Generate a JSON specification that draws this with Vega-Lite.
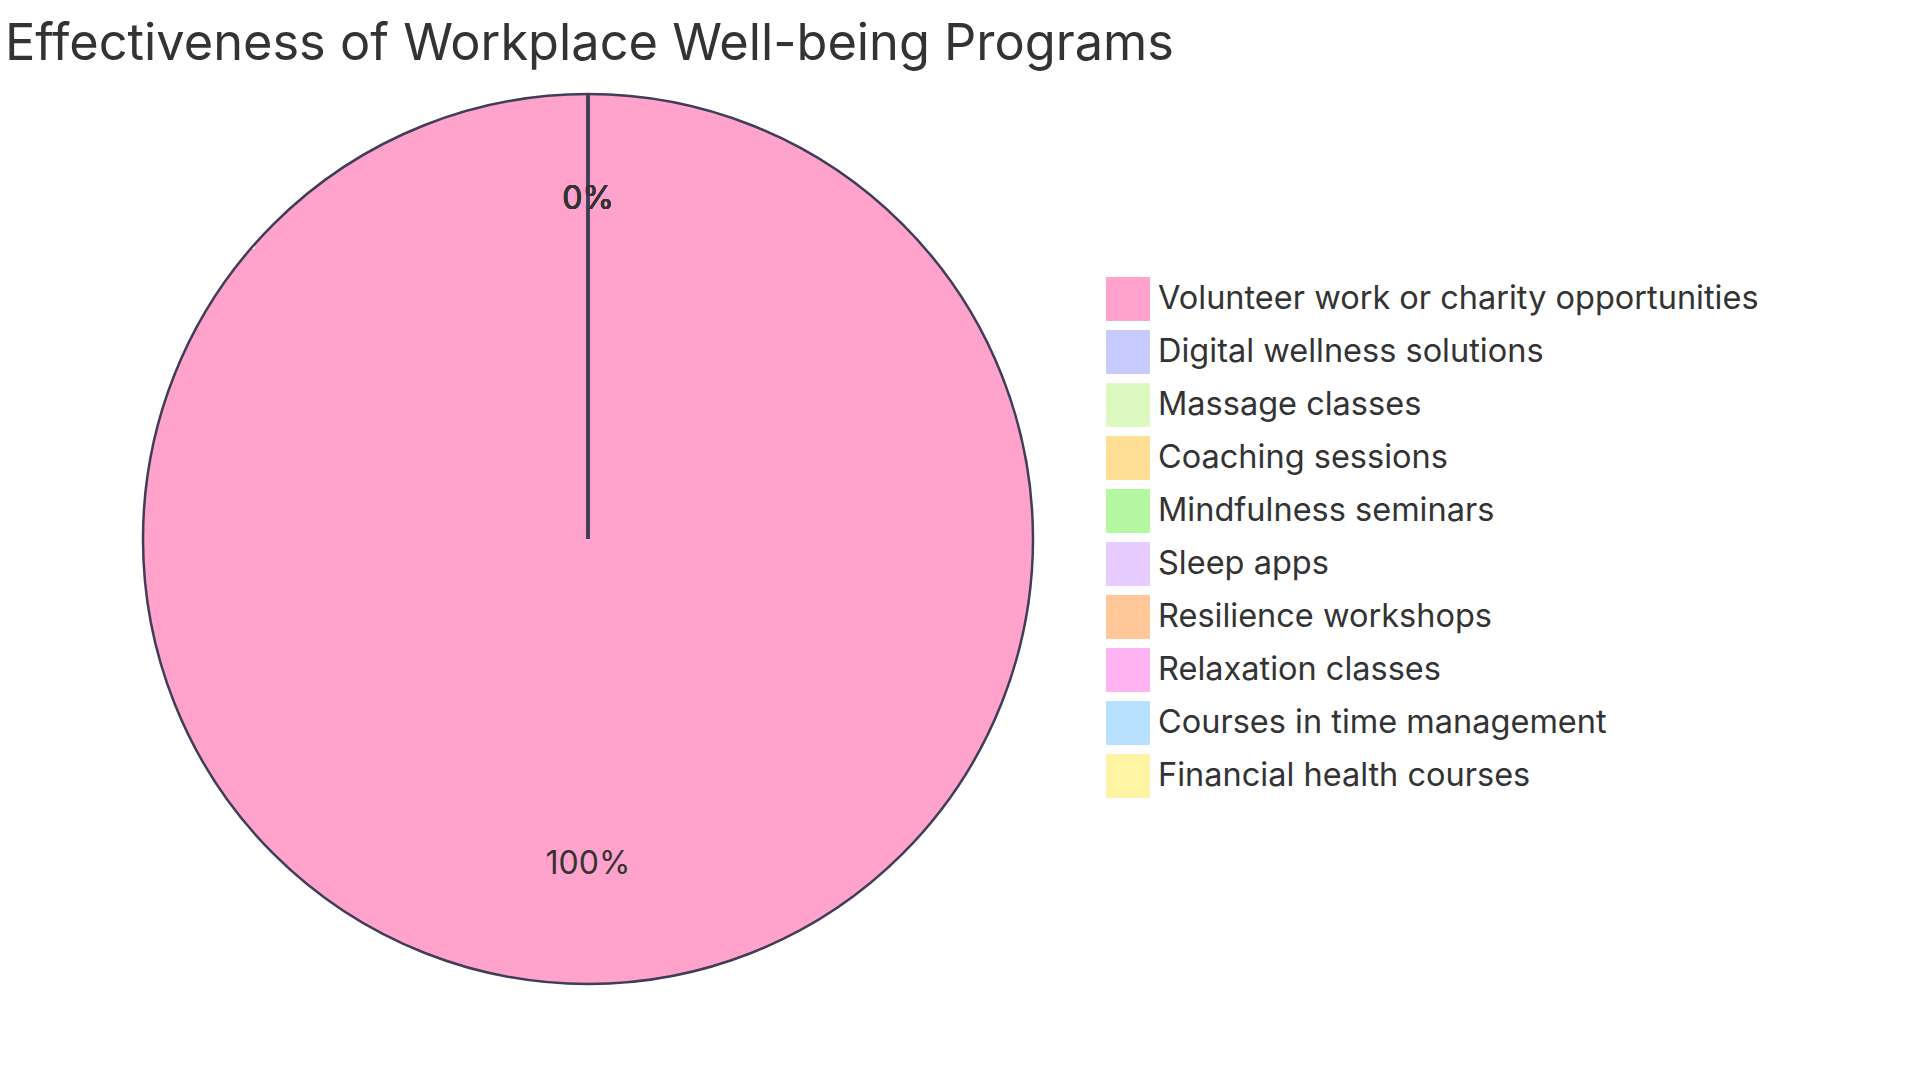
{
  "$schema": "https://vega.github.io/schema/vega-lite/v6.json",
  "autosize": "none",
  "width": 1176,
  "height": 890,
  "padding": {"left": 0, "top": 94, "right": 744, "bottom": 96},
  "background": "white",
  "title": {
    "text": "Effectiveness of Workplace Well-being Programs",
    "anchor": "start",
    "frame": "group",
    "orient": "top",
    "baseline": "alphabetic",
    "offset": -21,
    "dx": 5,
    "font": "Inter",
    "fontSize": 50.5,
    "fontWeight": "normal",
    "color": "#333333"
  },
  "data": {
    "values": [
      {"program": "Volunteer work or charity opportunities", "value": 1, "order": 1},
      {"program": "Digital wellness solutions", "value": 0, "order": 2},
      {"program": "Massage classes", "value": 0, "order": 3},
      {"program": "Coaching sessions", "value": 0, "order": 4},
      {"program": "Mindfulness seminars", "value": 0, "order": 5},
      {"program": "Sleep apps", "value": 0, "order": 6},
      {"program": "Resilience workshops", "value": 0, "order": 7},
      {"program": "Relaxation classes", "value": 0, "order": 8},
      {"program": "Courses in time management", "value": 0, "order": 9},
      {"program": "Financial health courses", "value": 0, "order": 10}
    ]
  },
  "encoding": {
    "theta": {"field": "value", "type": "quantitative", "stack": true},
    "order": {"field": "order", "type": "quantitative"}
  },
  "layer": [
    {
      "mark": {"type": "arc", "stroke": "#3f3d58", "strokeWidth": 2.5},
      "encoding": {
        "color": {
          "field": "program",
          "type": "nominal",
          "scale": {
            "domain": ["Volunteer work or charity opportunities", "Digital wellness solutions", "Massage classes", "Coaching sessions", "Mindfulness seminars", "Sleep apps", "Resilience workshops", "Relaxation classes", "Courses in time management", "Financial health courses"],
            "range": ["#FFA3CC", "#C9CBFF", "#DDF9C1", "#FFDE95", "#B5F7A3", "#E6CCFF", "#FFC898", "#FFB3F0", "#B8E0FF", "#FFF4A3"]
          },
          "legend": {
            "orient": "none",
            "legendX": 1106,
            "legendY": 183,
            "title": null,
            "padding": 0,
            "symbolType": "square",
            "symbolSize": 1936,
            "symbolStrokeWidth": 0,
            "symbolOpacity": 1,
            "rowPadding": 9,
            "labelOffset": 8,
            "labelFont": "Inter",
            "labelFontSize": 32.5,
            "labelColor": "#333333",
            "labelLimit": 1000
          }
        }
      }
    },
    {
      "transform": [{"filter": "datum.value > 0"}],
      "mark": {"type": "text", "radius": 324.5, "font": "Inter", "fontSize": 32, "fill": "#333333", "baseline": "middle", "align": "center"},
      "encoding": {
        "text": {"field": "value", "type": "quantitative", "format": ".0%"}
      }
    },
    {
      "mark": {"type": "text", "radius": 340.5, "font": "Inter", "fontSize": 32, "fill": "#333333", "baseline": "middle", "align": "center"},
      "encoding": {
        "text": {"field": "value", "type": "quantitative", "format": ".0%"},
        "opacity": {"condition": {"test": "datum.value > 0", "value": 0}, "value": 1}
      }
    }
  ]
}
